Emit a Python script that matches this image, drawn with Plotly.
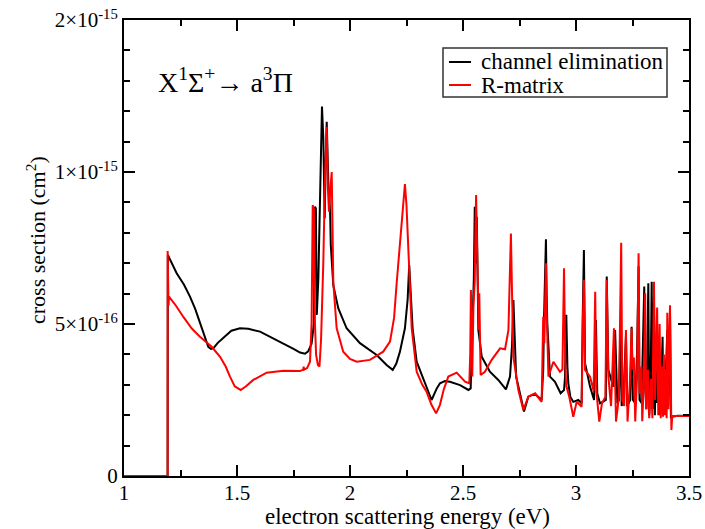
import plotly.graph_objects as go

# ---- data (cross sections in units of 1e-16 cm^2) ----
ce_energy = [1.000, 1.193, 1.194, 1.233, 1.265, 1.292, 1.315, 1.336, 1.355, 1.373, 1.385, 1.395, 1.415,
             1.439, 1.475, 1.513, 1.550, 1.602, 1.650, 1.705, 1.750, 1.779, 1.801, 1.815, 1.830, 1.840,
             1.845, 1.849, 1.853, 1.860, 1.868, 1.876, 1.882, 1.888, 1.893, 1.897, 1.904, 1.912, 1.915,
             1.926, 1.948, 1.985, 2.044, 2.118, 2.162, 2.189, 2.205, 2.221, 2.243, 2.255, 2.262, 2.268,
             2.277, 2.295, 2.324, 2.345, 2.361, 2.384, 2.398, 2.420, 2.442, 2.487, 2.524, 2.534, 2.540,
             2.543, 2.548, 2.552, 2.556, 2.561, 2.568, 2.583, 2.619, 2.656, 2.690, 2.708, 2.717, 2.723,
             2.728, 2.735, 2.752, 2.770, 2.789, 2.819, 2.848, 2.855, 2.858, 2.867, 2.870, 2.873, 2.885,
             2.907, 2.932, 2.947, 2.951, 2.957, 2.962, 2.966, 2.975, 2.988, 3.010, 3.025, 3.030, 3.035,
             3.040, 3.062, 3.080, 3.088, 3.094, 3.106, 3.120, 3.132, 3.136, 3.143, 3.165, 3.173, 3.183,
             3.190, 3.197, 3.202, 3.210, 3.221, 3.226, 3.240, 3.246, 3.252, 3.262, 3.270, 3.277, 3.281,
             3.290, 3.296, 3.302, 3.305, 3.312, 3.320, 3.324, 3.330, 3.335, 3.339, 3.345, 3.349, 3.355,
             3.359, 3.367, 3.372, 3.378, 3.383, 3.387, 3.395, 3.404, 3.408, 3.416, 3.420, 3.425, 3.450,
             3.500]
ce_xsec = [0.0, 0.0, 7.27, 6.67, 6.30, 5.90, 5.50, 5.02, 4.60, 4.25, 4.18, 4.20, 4.38,
           4.53, 4.78, 4.86, 4.84, 4.75, 4.57, 4.37, 4.18, 4.06, 4.02, 4.10, 4.35, 5.00,
           8.86, 8.80, 5.30, 6.50, 9.00, 12.15, 11.10, 8.48, 10.50, 11.65, 9.68, 8.69, 7.60,
           6.28, 5.52, 4.86, 4.37, 3.98, 3.65, 3.49, 3.70, 4.09, 4.86, 5.80, 6.94, 6.00,
           4.86, 3.76, 3.21, 2.85, 2.50, 2.88, 3.05, 3.12, 3.10, 2.99, 2.83, 2.88, 4.50,
           5.57, 6.50, 8.86, 7.00, 8.53, 4.80, 3.92, 3.43, 3.16, 2.85, 3.27, 4.30, 5.79,
           4.50, 3.27, 2.72, 2.12, 2.61, 2.70, 2.50, 3.50, 5.02, 7.79, 6.00, 5.02, 3.27,
           3.10, 2.72, 2.83, 3.20, 5.30, 3.60, 3.05, 2.60, 2.44, 2.50, 2.39, 5.35, 7.43,
           3.71, 2.94, 2.50, 5.13, 2.72, 2.39, 2.45, 2.50, 6.56, 3.49, 2.94, 4.80, 2.39,
           2.50, 5.00, 2.30, 2.60, 4.60, 2.30, 2.50, 4.91, 2.50, 2.40, 4.00, 6.90, 2.50,
           2.40, 4.50, 6.23, 3.00, 2.20, 6.34, 2.00, 3.00, 6.39, 2.20, 5.90, 2.00, 4.50,
           2.40, 3.50, 2.00, 3.00, 4.58, 2.20, 2.80, 4.80, 2.30, 5.30, 1.90, 1.95, 1.98,
           1.97]

rm_energy = [1.000, 1.193, 1.1932, 1.195, 1.197, 1.199, 1.230, 1.262, 1.300, 1.336, 1.388, 1.425, 1.450,
             1.469, 1.490, 1.516, 1.540, 1.572, 1.631, 1.705, 1.779, 1.793, 1.795, 1.797, 1.810, 1.823,
             1.830, 1.835, 1.840, 1.845, 1.850, 1.858, 1.865, 1.872, 1.882, 1.890, 1.897, 1.902, 1.907,
             1.914, 1.919, 1.923, 1.926, 1.941, 1.970, 2.000, 2.030, 2.088, 2.147, 2.177, 2.195, 2.207,
             2.229, 2.243, 2.250, 2.258, 2.273, 2.295, 2.320, 2.339, 2.360, 2.381, 2.398, 2.415, 2.435,
             2.472, 2.509, 2.528, 2.532, 2.535, 2.538, 2.541, 2.546, 2.552, 2.555, 2.558, 2.561, 2.564,
             2.570, 2.572, 2.578, 2.597, 2.627, 2.664, 2.686, 2.701, 2.707, 2.712, 2.717, 2.723, 2.745,
             2.767, 2.789, 2.819, 2.848, 2.855, 2.860, 2.864, 2.867, 2.870, 2.873, 2.878, 2.900, 2.929,
             2.940, 2.947, 2.952, 2.956, 2.970, 2.988, 3.003, 3.015, 3.025, 3.030, 3.035, 3.040, 3.062,
             3.078, 3.085, 3.090, 3.103, 3.115, 3.130, 3.136, 3.143, 3.155, 3.168, 3.177, 3.190, 3.200,
             3.205, 3.213, 3.221, 3.228, 3.238, 3.246, 3.250, 3.256, 3.262, 3.270, 3.277, 3.281, 3.290,
             3.293, 3.300, 3.306, 3.310, 3.318, 3.324, 3.332, 3.338, 3.345, 3.350, 3.359, 3.364, 3.370,
             3.375, 3.381, 3.385, 3.389, 3.392, 3.398, 3.401, 3.404, 3.409, 3.412, 3.416, 3.422, 3.426,
             3.500]
rm_xsec = [0.0, 0.0, 7.40, 5.95, 5.60, 5.90, 5.60, 5.24, 4.85, 4.58, 4.25, 3.92, 3.60,
           3.27, 2.95, 2.83, 2.95, 3.16, 3.40, 3.46, 3.45, 3.50, 3.60, 3.50, 3.55, 3.76,
           5.00, 8.91, 8.80, 5.00, 3.98, 3.65, 3.60, 4.50, 7.05, 10.00, 11.49, 9.50, 8.69,
           9.50, 10.00, 8.00, 6.39, 4.86, 4.09, 3.85, 3.76, 3.82, 4.09, 4.42, 5.20, 6.39,
           8.37, 9.60, 8.90, 7.60, 4.86, 3.43, 3.00, 2.77, 2.35, 2.06, 2.34, 2.85, 3.27,
           3.40, 3.10, 3.05, 4.00, 6.12, 4.00, 3.27, 5.57, 6.39, 8.00, 9.24, 8.00, 6.67,
           4.80, 6.01, 3.32, 3.43, 3.82, 4.20, 4.17, 4.80, 6.50, 7.98, 6.00, 3.92, 2.83,
           2.17, 2.61, 2.72, 2.44, 5.24, 4.37, 6.00, 7.00, 5.50, 4.47, 3.27, 3.76, 3.43,
           3.50, 6.83, 4.00, 3.00, 2.61, 1.95, 2.44, 2.35, 2.28, 5.02, 6.45, 3.49, 3.27,
           2.80, 6.06, 2.80, 1.79, 2.40, 2.60, 6.45, 3.30, 2.30, 4.86, 1.79, 2.60, 7.67,
           2.50, 2.30, 4.80, 1.79, 3.00, 4.86, 3.50, 3.90, 1.79, 3.20, 7.33, 2.70, 3.60,
           1.80, 3.00, 6.01, 2.20, 3.50, 1.90, 3.20, 1.90, 6.39, 2.50, 5.54, 2.00, 5.00,
           1.90, 3.60, 1.95, 4.00, 2.00, 3.50, 1.90, 5.37, 2.20, 4.30, 5.62, 1.51, 1.98,
           1.97]

UNIT = 1e-16
y_tickvals = [0, 5e-16, 1e-15, 1.5e-15]
y_ticktext = ["0", "5×10<sup>-16</sup>", "1×10<sup>-15</sup>", "2×10<sup>-15</sup>"]
x_tickvals = [1, 1.5, 2, 2.5, 3, 3.5]
x_ticktext = ["1", "1.5", "2", "2.5", "3", "3.5"]
series_names = ["channel elimination", "R-matrix"]
series_colors = ["#000000", "#ff0000"]

FONT = "Liberation Serif"

FIG_W, FIG_H = 705, 529
L, R, T, B = 124, 689, 20, 476   # plot area in page pixels
W, H = R - L, B - T


def px(xp):
    return (xp - L) / W


def py(yp):
    return (B - yp) / H


fig = go.Figure()
fig.add_trace(go.Scatter(x=ce_energy, y=[v * UNIT for v in ce_xsec], mode="lines",
                         name=series_names[0], line=dict(color=series_colors[0], width=2)))
fig.add_trace(go.Scatter(x=rm_energy, y=[v * UNIT for v in rm_xsec], mode="lines",
                         name=series_names[1], line=dict(color=series_colors[1], width=2)))

axis_common = dict(showline=True, linecolor="black", linewidth=2, mirror="ticks",
                   ticks="inside", tickcolor="black", tickwidth=2, ticklen=11,
                   showgrid=False, zeroline=False, automargin=False,
                   ticklabeloverflow="allow",
                   tickfont=dict(family=FONT, size=21, color="black"))

fig.update_xaxes(range=[1, 3.5], tickmode="array", tickvals=x_tickvals, ticktext=x_ticktext,
                 ticklabelstandoff=-3,
                 minor=dict(ticks="inside", ticklen=6, tickwidth=2, tickcolor="black",
                            tickmode="linear", tick0=1, dtick=0.25),
                 **axis_common)
fig.update_yaxes(range=[0, 1.5e-15], tickmode="array", tickvals=y_tickvals, ticktext=y_ticktext,
                 minor=dict(ticks="inside", ticklen=6, tickwidth=2, tickcolor="black",
                            tickmode="linear", tick0=0, dtick=1e-16),
                 **axis_common)

shapes = [dict(type="rect", xref="paper", yref="paper", x0=px(443), x1=px(667), y0=py(97), y1=py(48),
               line=dict(color="#333333", width=1.5), fillcolor="white", layer="above")]
annotations = []
for i, (nm, col) in enumerate(zip(series_names, series_colors)):
    yy = 62 + 23 * i
    shapes.append(dict(type="line", xref="paper", yref="paper", x0=px(449), x1=px(471),
                       y0=py(yy), y1=py(yy), line=dict(color=col, width=2), layer="above"))
    annotations.append(dict(text=nm, xref="paper", yref="paper", x=px(479), y=py(yy),
                            xanchor="left", yanchor="middle", showarrow=False,
                            font=dict(family=FONT, size=23, color="black")))

annotations += [
    dict(text="X<sup>1</sup>Σ<sup>+</sup>→ a<sup>3</sup>Π", xref="paper", yref="paper",
         x=px(156), y=py(100), xanchor="left", yanchor="bottom",
         showarrow=False, font=dict(family=FONT, size=28, color="black")),
    dict(text="electron scattering energy (eV)", xref="paper", yref="paper",
         x=px(407), y=py(516), xanchor="center", yanchor="middle",
         showarrow=False, font=dict(family=FONT, size=23, color="black")),
    dict(text="cross section (cm<sup>2</sup>)", xref="paper", yref="paper",
         x=px(36), y=py(240), xanchor="center", yanchor="middle",
         textangle=-90, showarrow=False, font=dict(family=FONT, size=22, color="black")),
]

fig.update_layout(
    width=FIG_W, height=FIG_H,
    margin=dict(l=L, r=FIG_W - R, t=T, b=FIG_H - B, autoexpand=False),
    paper_bgcolor="white", plot_bgcolor="white",
    font=dict(family=FONT, color="black"),
    showlegend=False,
    hovermode=False,
    shapes=shapes,
    annotations=annotations,
)

fig.write_html("out.html", config={"displayModeBar": False, "staticPlot": True},
               post_script="document.body.style.margin='0';document.body.style.overflow='hidden';")
